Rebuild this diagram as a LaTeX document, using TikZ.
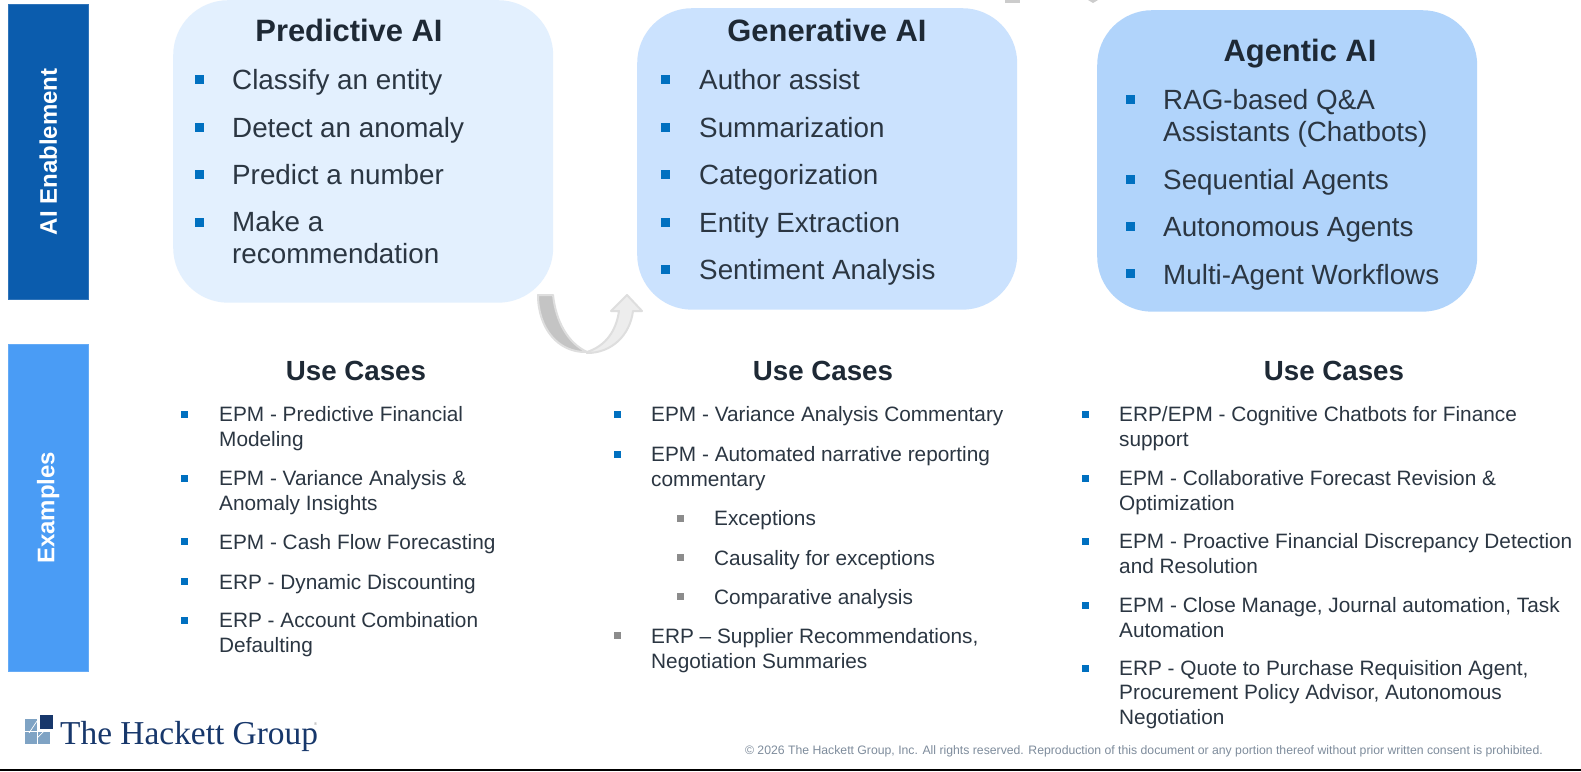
\documentclass[tikz,border=0pt]{standalone}
\usepackage{fontspec}
\setmainfont{Liberation Sans}
\newfontfamily\logofont{Liberation Serif}
\definecolor{barDark}{HTML}{0B5CAD}
\definecolor{barLight}{HTML}{4A9CF5}
\definecolor{boxA}{HTML}{E3F0FE}
\definecolor{boxB}{HTML}{CBE2FE}
\definecolor{boxC}{HTML}{B1D4FB}
\definecolor{inkText}{HTML}{2B3642}
\definecolor{inkTitle}{HTML}{1E2935}
\definecolor{bulBlue}{HTML}{0070C0}
\definecolor{bulGrey}{HTML}{8C8C8C}
\definecolor{navyLogo}{HTML}{17376B}
\definecolor{paleLogo}{HTML}{7FA3C4}
\definecolor{footGrey}{HTML}{7E8C9C}
\begin{document}
\begin{tikzpicture}[x=1pt,y=-1pt,
   card/.style={rounded corners=55pt,minimum width=380pt,minimum height=301.5pt,inner sep=0pt,anchor=north west},
   sidebar/.style={draw=#1!85!white,fill=#1,line width=.5pt,minimum width=80pt,inner sep=0pt,anchor=north west},
   sidetext/.style={rotate=90,text=white,font=\fontsize{24}{28}\selectfont\bfseries},
   title/.style={anchor=base,text=inkTitle,font=\fontsize{30.9}{36}\selectfont\bfseries},
   usecase/.style={anchor=base,text=inkTitle,font=\fontsize{27.7}{32}\selectfont\bfseries},
   bigitem/.style={anchor=base west,align=left,inner sep=0pt,text=inkText,font=\fontsize{27.8}{32}\selectfont},
   smallitem/.style={anchor=base west,align=left,inner sep=0pt,text=inkText,font=\fontsize{20.8}{24.2}\selectfont},
   bigbul/.style={fill=bulBlue,minimum size=9pt,inner sep=0pt},
   smallbul/.style={fill=#1,minimum size=7pt,inner sep=0pt},
   swoosh/.style={draw=black!13,line width=2pt,line join=round}]
\useasboundingbox (0,0) rectangle (1581,771);
\fill[white] (0,0) rectangle (1581,771);
% side bars
\node[sidebar=barDark,minimum height=295pt] (enable) at (8,4) {};
\node[sidebar=barLight,minimum height=327pt] (examples) at (8,344) {};
\node[sidetext] (enabletxt) at (enable.center) {AI Enablement};
\node[sidetext] (examplestxt) at (examples.center) {Examples};
% top cards
\node[card,fill=boxA,minimum height=302.5pt] (predictive) at (173,0) {};
\node[card,fill=boxB] (generative) at (637,8) {};
\node[card,fill=boxC] (agentic) at (1097,10) {};
\node[title] (ptitle) at (349,41) {Predictive AI};
\node[title] (gtitle) at (827,41) {Generative AI};
\node[title] (atitle) at (1300,61) {Agentic AI};
% predictive
\node[bigbul] (pb1) at (199,79) {};
\node[bigitem] (p1) at (232,89) {Classify an entity};
\node[bigbul] (pb2) at (199,127) {};
\node[bigitem] (p2) at (232,137) {Detect an anomaly};
\node[bigbul] (pb3) at (199,174) {};
\node[bigitem] (p3) at (232,184) {Predict a number};
\node[bigbul] (pb4) at (199,222) {};
\node[bigitem] (p4) at (232,263) {Make a\\recommendation};
% generative
\node[bigbul] (gb1) at (665,79) {};
\node[bigitem] (g1) at (699,89) {Author assist};
\node[bigbul] (gb2) at (665,127) {};
\node[bigitem] (g2) at (699,137) {Summarization};
\node[bigbul] (gb3) at (665,174) {};
\node[bigitem] (g3) at (699,184) {Categorization};
\node[bigbul] (gb4) at (665,222) {};
\node[bigitem] (g4) at (699,232) {Entity Extraction};
\node[bigbul] (gb5) at (665,269) {};
\node[bigitem] (g5) at (699,279) {Sentiment Analysis};
% agentic
\node[bigbul] (ab1) at (1130,99) {};
\node[bigitem] (a1) at (1163,141) {RAG-based Q\&A\\Assistants (Chatbots)};
\node[bigbul] (ab2) at (1130,179) {};
\node[bigitem] (a2) at (1163,189) {Sequential Agents};
\node[bigbul] (ab3) at (1130,226) {};
\node[bigitem] (a3) at (1163,236) {Autonomous Agents};
\node[bigbul] (ab4) at (1130,273) {};
\node[bigitem] (a4) at (1163,284) {Multi-Agent Workflows};
% curved arrow between the cards
\filldraw[swoosh,fill=black!7] (587,352) .. controls (605,346) and (616,332) .. (619,311) -- (611,311)
   -- (627,295) -- (642,311) -- (633,311) .. controls (630,335) and (612,353) .. (587,353) -- cycle;
\filldraw[swoosh,fill=black!23] (538,295) -- (553,295) .. controls (556,322) and (568,343) .. (587,352)
   .. controls (558,353) and (538,328) .. (538,295) -- cycle;
% scraps cut off by the top edge
\fill[black!20] (1005,0) rectangle (1020,3);
\fill[black!20] (1088,0) -- (1098,0) -- (1093,3) -- cycle;
% use cases
\node[usecase] (uc1) at (356,380) {Use Cases};
\node[usecase] (uc2) at (823,380) {Use Cases};
\node[usecase] (uc3) at (1334,380) {Use Cases};
% first column
\node[smallbul=bulBlue] (xb1) at (184,414) {};
\node[smallitem] (x1) at (219,446) {EPM - Predictive Financial\\Modeling};
\node[smallbul=bulBlue] (xb2) at (184,478) {};
\node[smallitem] (x2) at (219,510) {EPM - Variance Analysis \&\\Anomaly Insights};
\node[smallbul=bulBlue] (xb3) at (184,541) {};
\node[smallitem] (x3) at (219,549) {EPM - Cash Flow Forecasting};
\node[smallbul=bulBlue] (xb4) at (184,581) {};
\node[smallitem] (x4) at (219,589) {ERP - Dynamic Discounting};
\node[smallbul=bulBlue] (xb5) at (184,620) {};
\node[smallitem] (x5) at (219,652) {ERP - Account Combination\\Defaulting};
% second column
\node[smallbul=bulBlue] (yb1) at (617,414) {};
\node[smallitem] (y1) at (651,421) {EPM - Variance Analysis Commentary};
\node[smallbul=bulBlue] (yb2) at (617,454) {};
\node[smallitem] (y2) at (651,486) {EPM - Automated narrative reporting\\commentary};
\node[smallbul=bulGrey] (yb3) at (680,518) {};
\node[smallitem] (y3) at (714,525) {Exceptions};
\node[smallbul=bulGrey] (yb4) at (680,557) {};
\node[smallitem] (y4) at (714,565) {Causality for exceptions};
\node[smallbul=bulGrey] (yb5) at (680,596) {};
\node[smallitem] (y5) at (714,604) {Comparative analysis};
\node[smallbul=bulGrey] (yb6) at (617,635) {};
\node[smallitem] (y6) at (651,668) {ERP -- Supplier Recommendations,\\Negotiation Summaries};
% third column
\node[smallbul=bulBlue] (zb1) at (1085,414) {};
\node[smallitem] (z1) at (1119,446) {ERP/EPM - Cognitive Chatbots for Finance\\support};
\node[smallbul=bulBlue] (zb2) at (1085,478) {};
\node[smallitem] (z2) at (1119,510) {EPM - Collaborative Forecast Revision \&\\Optimization};
\node[smallbul=bulBlue] (zb3) at (1085,541) {};
\node[smallitem] (z3) at (1119,573) {EPM - Proactive Financial Discrepancy Detection\\and Resolution};
\node[smallbul=bulBlue] (zb4) at (1085,605) {};
\node[smallitem] (z4) at (1119,637) {EPM - Close Manage, Journal automation, Task\\Automation};
\node[smallbul=bulBlue] (zb5) at (1085,668) {};
\node[smallitem] (z5) at (1119,724) {ERP - Quote to Purchase Requisition Agent,\\Procurement Policy Advisor, Autonomous\\Negotiation};
% logo and footer
\fill[paleLogo] (25,719) rectangle (36.5,730.5);
\fill[paleLogo] (25,732) rectangle (36.5,744);
\fill[paleLogo] (38,732) rectangle (50,744);
\draw[white,line width=.7pt] (29,733) -- (37,721);
\draw[white,line width=.7pt] (37,738) -- (44,731);
\fill[navyLogo] (40,715) rectangle (53,729);
\node[anchor=base west,inner sep=0pt,text=navyLogo,font=\logofont\fontsize{33.4}{38}\selectfont] (logo) at (60,744)
   {The Hackett Group};
\node[anchor=base west,inner sep=0pt,text=bulGrey,font=\fontsize{4}{5}\selectfont] (reg) at (314,725) {®};
\node[anchor=base east,inner sep=0pt,text=footGrey,font=\fontsize{12.24}{14}\selectfont] (foot) at (1543,754)
   {© 2026 The Hackett Group, Inc. All rights reserved. Reproduction of this document or any portion thereof without prior written consent is prohibited.};
\fill[black] (0,769) rectangle (1581,771);
\end{tikzpicture}
\end{document}
